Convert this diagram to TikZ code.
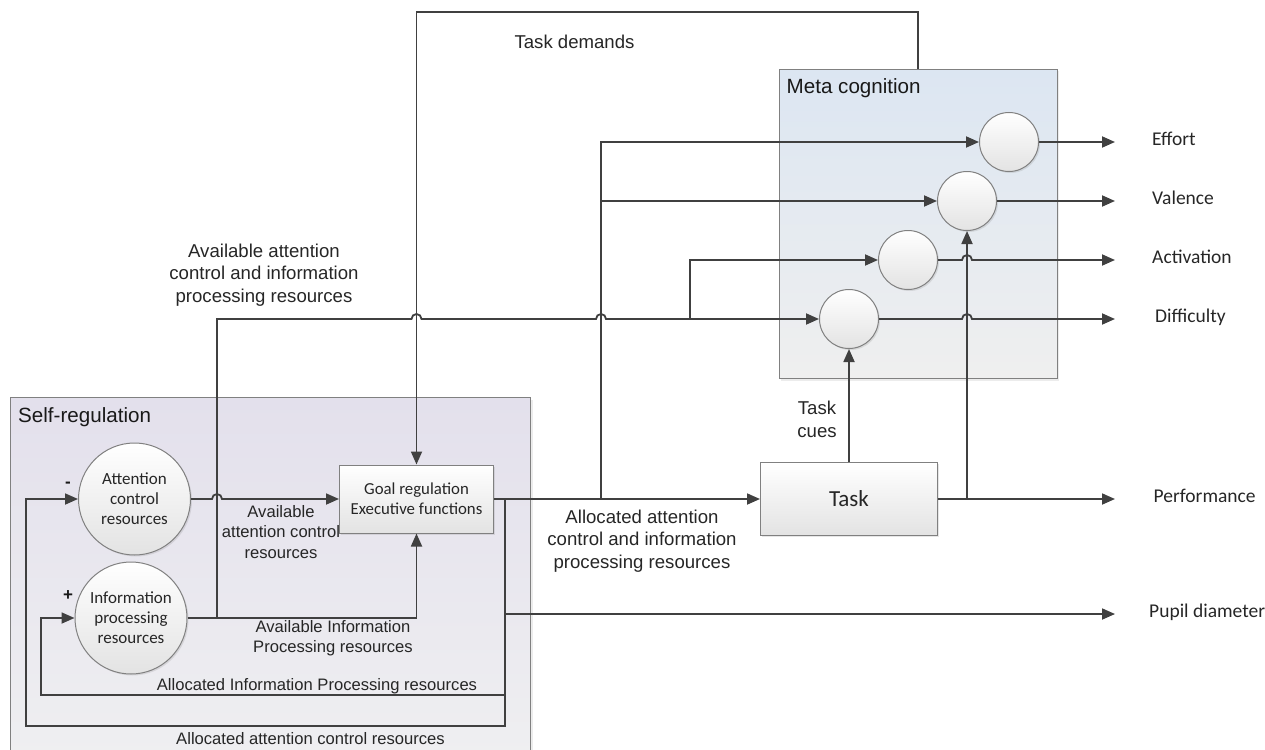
\documentclass[tikz,border=0pt]{standalone}
\usepackage{fontspec}
\setmainfont{Liberation Sans}
\newfontfamily\calibri{Carlito}
\usepackage{tikz}
\usetikzlibrary{positioning,calc,arrows.meta,shadows}
\definecolor{linegray}{HTML}{404040}
\definecolor{bordergray}{HTML}{808080}
\definecolor{selftop}{HTML}{E3E0EC}
\definecolor{selfbot}{HTML}{EFEFF1}
\definecolor{metatop}{HTML}{DCE6F2}
\definecolor{metabot}{HTML}{EFEFEF}

\begin{document}
\begin{tikzpicture}[x=1pt, y=-1pt,
        region/.style={rectangle, draw=bordergray, line width=1pt, anchor=north west, inner sep=0pt, drop shadow={shadow xshift=2pt, shadow yshift=-2pt, opacity=0.15}},
        circ/.style={circle, draw=bordergray, line width=1pt, top color=white, bottom color=black!11, minimum size=112pt, inner sep=0pt, align=center, text=black!85, font=\calibri\fontsize{17}{20}\selectfont, drop shadow={shadow xshift=1.5pt, shadow yshift=-1.5pt, opacity=0.2}},
        mcirc/.style={circ, minimum size=59pt},
        procbox/.style={rectangle, draw=bordergray, line width=1pt, top color=white, bottom color=black!11, inner sep=0pt, align=center, text=black!85, font=\calibri\fontsize{16.8}{20}\selectfont, drop shadow={shadow xshift=1.5pt, shadow yshift=-1.5pt, opacity=0.2}},
        title/.style={anchor=west, inner sep=0pt, text=black!90, font=\fontsize{20.6}{24}\selectfont},
        smalllab/.style={align=center, inner sep=0pt, text=black!85, font=\fontsize{16.6}{20.5}\selectfont},
        biglab/.style={align=center, inner sep=0pt, text=black!85, font=\fontsize{18.6}{22.4}\selectfont},
        outlab/.style={inner sep=0pt, text height=1.5ex, text depth=.25ex, text=black!85, font=\calibri\fontsize{19.5}{23}\selectfont},
        sign/.style={inner sep=0pt, text=black!90, font=\bfseries\fontsize{17}{20}\selectfont},
        wire/.style={draw=linegray, line width=1.8pt},
        arrow/.style={wire, -{Triangle[length=13pt,width=11pt]}},
      ]
      \useasboundingbox (0,0) rectangle (1265,749);
      % Regions
      \node [region, top color=selftop, bottom color=selfbot, minimum width=520pt, minimum height=360pt] (selfreg) at (10,397) {};
      \node [title] (selftitle) at (18,417) {Self-regulation};
      \node [region, top color=metatop, bottom color=metabot, minimum width=278pt, minimum height=309pt] (meta) at (778.5,69) {};
      \node [title] (metatitle) at (786.5,88) {Meta cognition};
      % Self-regulation
      \node [circ] (att) at (134.5,499) {Attention\\control\\resources};
      \node [circ] (info) at (131,618) {Information\\processing\\resources};
      \node [procbox, minimum width=154pt, minimum height=68pt] (goal) at (416.5,499) {Goal regulation\\Executive functions};
      \node [sign] (minus) at (68,485) {-};
      \node [sign] (plus) at (68,596) {+};
      % Task and meta cognition
      \node [procbox, minimum width=177pt, minimum height=73pt, font=\calibri\fontsize{23}{27}\selectfont] (task) at (849,499) {Task};
      \node [mcirc] (effort) at (1009,142) {};
      \node [mcirc] (valence) at (967,201) {};
      \node [mcirc] (activ) at (908,260) {};
      \node [mcirc] (diffic) at (849,319) {};
      % Outputs
      \coordinate (effend) at (1115,142);
      \coordinate (valend) at (1115,201);
      \coordinate (actend) at (1115,260);
      \coordinate (diffend) at (1115,319);
      \coordinate (perfend) at (1115,499);
      \coordinate (pupend) at (1115,614);
      \node [outlab, right=37pt of effend] (efflab) {Effort};
      \node [outlab, right=37pt of valend] (vallab) {Valence};
      \node [outlab, right=37pt of actend] (actlab) {Activation};
      \node [outlab, right=40pt of diffend] (difflab) {Difficulty};
      \node [outlab, right=38.5pt of perfend] (perflab) {Performance};
      \node [outlab, right=34pt of pupend] (puplab) {Pupil diameter};
      % Labels
      \node [smalllab] (availatt) at (281,532) {Available\\attention control\\resources};
      \node [smalllab] (availinfo) at (333,638) {Available Information\\Processing resources};
      \node [smalllab] (allocinfo) at (317,686) {Allocated Information Processing resources};
      \node [smalllab] (allocatt) at (310.5,739) {Allocated attention control resources};
      \node [biglab] (availall) at (264,275) {Available attention\\control and information\\processing resources};
      \node [biglab] (allocall) at (642,541) {Allocated attention\\control and information\\processing resources};
      \node [biglab] (demands) at (574.5,42) {Task demands};
      \node [biglab] (cues) at (817,419.5) {Task\\cues};
      % Helper points
      \coordinate (split) at (505,499);
      \coordinate (avl) at (217,618);
      \coordinate (up) at (601,499);
      \coordinate (tdtop) at (918,12);
      % Connectors
      \draw [arrow] (split) |- (26,726) |- (att);
      \draw [arrow] (split) |- (41,695) |- (info);
      \draw [arrow] (split |- pupend) -- (pupend);
      \draw [arrow] (att) -- (212,499) arc [start angle=180, end angle=0, radius=5pt] -- (goal);
      \draw [arrow] (info) -| (goal);
      \draw [arrow] (meta.north -| tdtop) -- (tdtop) -| (goal);
      \draw [arrow] (goal) -- (task);
      \draw [arrow] (avl) -- (217,319) -- (411.5,319) arc [start angle=180, end angle=0, radius=5pt] -- (596,319) arc [start angle=180, end angle=0, radius=5pt] -- (diffic);
      \draw [arrow] (690,319) |- (activ);
      \draw [arrow] (up) |- (effort);
      \draw [arrow] (up |- valence) -- (valence);
      \draw [arrow] (task) -- (diffic);
      \draw [arrow] (task -| valence) -- (valence);
      \draw [arrow] (task) -- (perfend);
      \draw [arrow] (effort) -- (effend);
      \draw [arrow] (valence) -- (valend);
      \draw [arrow] (activ) -- (962,260) arc [start angle=180, end angle=0, radius=5pt] -- (actend);
      \draw [arrow] (diffic) -- (962,319) arc [start angle=180, end angle=0, radius=5pt] -- (diffend);
    \end{tikzpicture}
\end{document}
